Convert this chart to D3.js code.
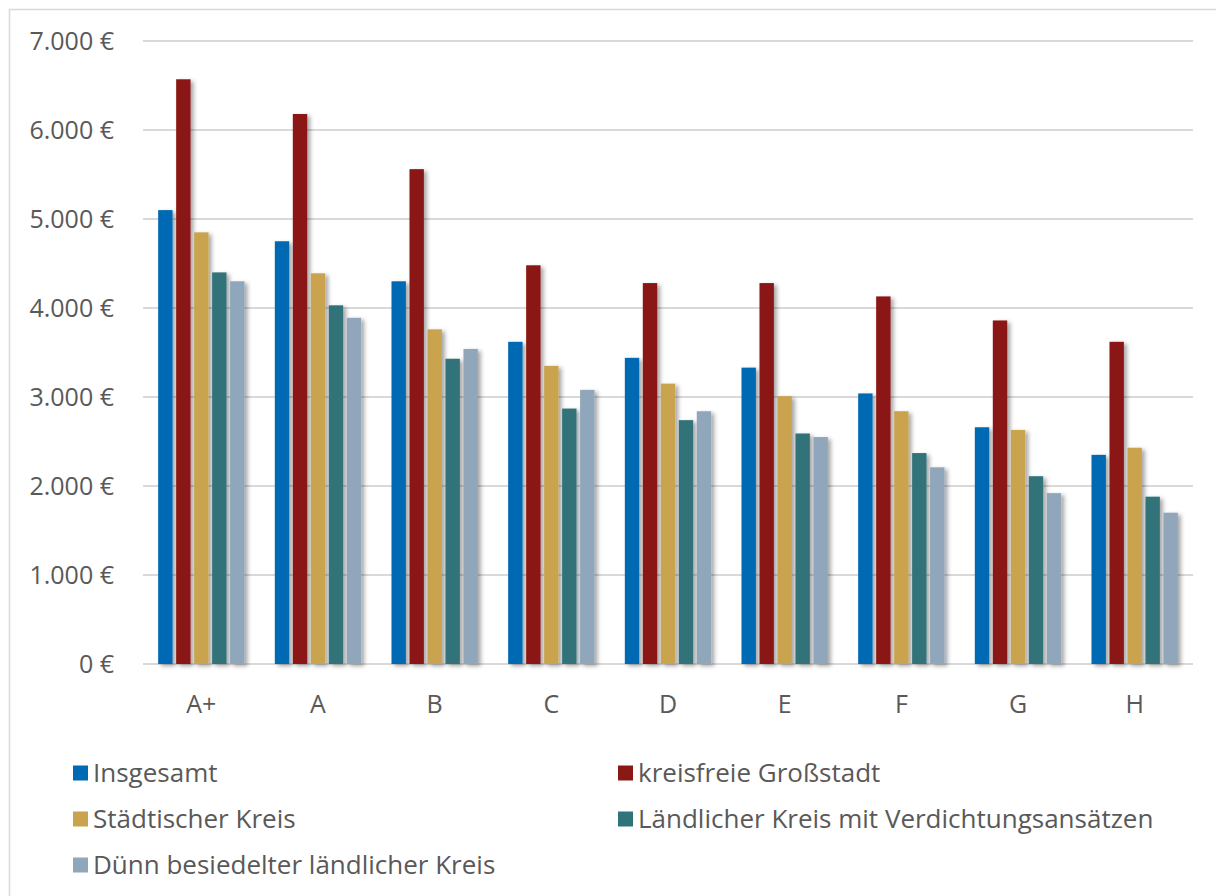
<!DOCTYPE html>
<meta charset='utf-8'>
<style>
  body { margin: 0; background: #fff; }
  text { font-family: 'Open Sans', sans-serif; fill: #595959; }
</style>
<svg width='1216' height='896'></svg>
<script src="https://d3js.org/d3.v7.min.js"></script>
<script>
  var categories = ['A+', 'A', 'B', 'C', 'D', 'E', 'F', 'G', 'H'];
  var seriesNames = [
    'Insgesamt',
    'kreisfreie Großstadt',
    'Städtischer Kreis',
    'Ländlicher Kreis mit Verdichtungsansätzen',
    'Dünn besiedelter ländlicher Kreis'
  ];
  var insgesamt   = [5100, 4750, 4300, 3620, 3440, 3330, 3040, 2660, 2350];
  var grossstadt  = [6570, 6180, 5560, 4480, 4280, 4280, 4130, 3860, 3620];
  var staedtisch  = [4850, 4390, 3760, 3350, 3150, 3010, 2840, 2630, 2430];
  var verdichtung = [4400, 4030, 3430, 2870, 2740, 2590, 2370, 2110, 1880];
  var duenn       = [4300, 3890, 3540, 3080, 2840, 2550, 2210, 1920, 1700];
  var yTicks = [0, 1000, 2000, 3000, 4000, 5000, 6000, 7000];
  var colors = ['#0069b4', '#8b1913', '#c9a34e', '#31737a', '#90a6bb'];

  var values = [insgesamt, grossstadt, staedtisch, verdichtung, duenn];

  var svg = d3.select('svg');

  // chart border
  svg.append('rect')
    .attr('x', 9.5).attr('y', 9.5)
    .attr('width', 1300).attr('height', 1000)
    .attr('fill', 'none')
    .attr('stroke', '#d9d9d9')
    .attr('stroke-width', 1.5);

  var defs = svg.append('defs');
  var f = defs.append('filter').attr('id', 'shadow')
    .attr('x', '-50%').attr('y', '-10%').attr('width', '200%').attr('height', '120%');
  f.append('feDropShadow')
    .attr('dx', 3).attr('dy', 2)
    .attr('stdDeviation', 2)
    .attr('flood-color', '#000')
    .attr('flood-opacity', 0.35);

  var x0 = d3.scaleBand().domain(categories).range([143, 1193])
    .paddingInner(0.26).paddingOuter(0.13);
  var x1 = d3.scaleBand().domain(d3.range(5)).range([0, x0.bandwidth()])
    .paddingInner(0.2).paddingOuter(0);
  var y = d3.scaleLinear().domain([0, 7000]).range([664, 41]);

  var fmt = function(v) { return d3.format(',')(v).replace(/,/g, '.') + ' €'; };

  // gridlines
  svg.append('g').selectAll('line').data(yTicks).enter().append('line')
    .attr('x1', 143).attr('x2', 1193)
    .attr('y1', function(d) { return y(d); })
    .attr('y2', function(d) { return y(d); })
    .attr('stroke', '#d9d9d9')
    .attr('stroke-width', 2);

  // y labels
  svg.append('g').selectAll('text').data(yTicks).enter().append('text')
    .attr('x', 114)
    .attr('y', function(d) { return y(d); })
    .attr('dy', '0.35em')
    .attr('text-anchor', 'end')
    .style('font-size', '25px')
    .text(fmt);

  // bars
  var groups = svg.append('g').selectAll('g').data(categories).enter().append('g')
    .attr('transform', function(d) { return 'translate(' + x0(d) + ',0)'; });

  groups.selectAll('rect')
    .data(function(c, ci) { return values.map(function(s, si) { return { si: si, v: s[ci] }; }); })
    .enter().append('rect')
    .attr('x', function(d) { return x1(d.si); })
    .attr('y', function(d) { return y(d.v); })
    .attr('width', x1.bandwidth())
    .attr('height', function(d) { return y(0) - y(d.v); })
    .attr('fill', function(d) { return colors[d.si]; })
    .attr('filter', 'url(#shadow)');

  // x labels
  svg.append('g').selectAll('text').data(categories).enter().append('text')
    .attr('x', function(d) { return x0(d) + x0.bandwidth() / 2; })
    .attr('y', 704)
    .attr('dy', '0.35em')
    .attr('text-anchor', 'middle')
    .style('font-size', '25px')
    .text(function(d) { return d; });

  // legend
  var legendPos = [[73, 773], [618, 773], [73, 819], [618, 819], [73, 865]];
  var legend = svg.append('g').selectAll('g').data(seriesNames).enter().append('g')
    .attr('transform', function(d, i) { return 'translate(' + legendPos[i][0] + ',' + legendPos[i][1] + ')'; });
  legend.append('rect')
    .attr('x', 0).attr('y', -7.5)
    .attr('width', 15).attr('height', 15)
    .attr('fill', function(d, i) { return colors[i]; });
  legend.append('text')
    .attr('x', 20).attr('y', 0)
    .attr('dy', '0.35em')
    .style('font-size', '26px')
    .text(function(d) { return d; });
</script>
